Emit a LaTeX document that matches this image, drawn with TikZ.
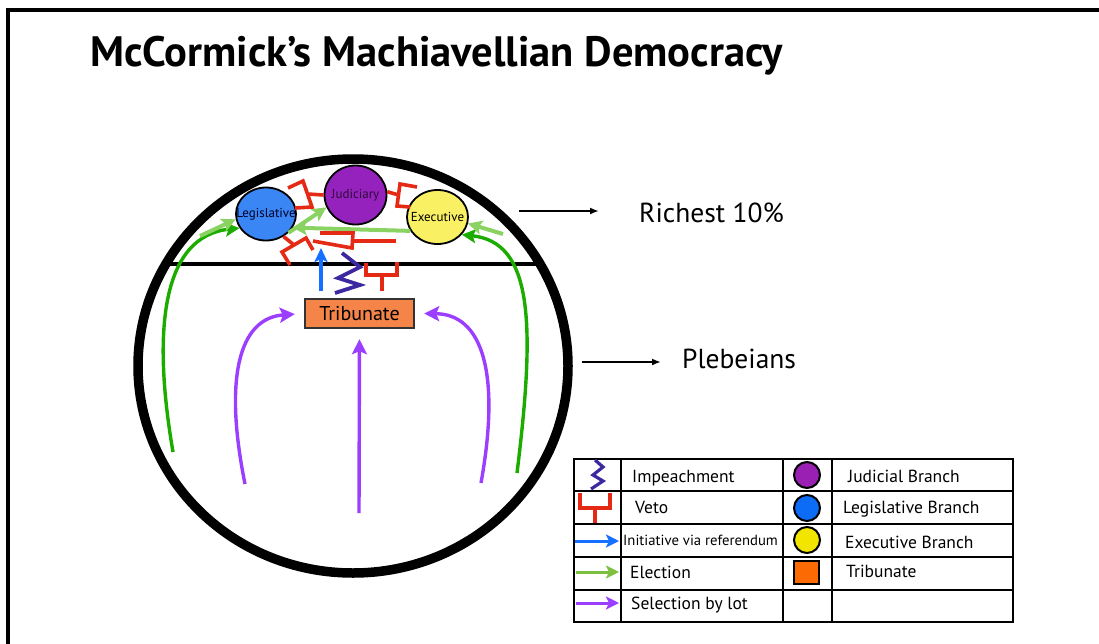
\documentclass[tikz,border=0pt]{standalone}
\usepackage{fontspec}
\setmainfont{PT Sans}
\usetikzlibrary{arrows.meta,shapes.geometric}

\definecolor{legblue}{RGB}{58,134,245}
\definecolor{judpurple}{RGB}{150,34,190}
\definecolor{exeyellow}{RGB}{250,240,100}
\definecolor{triorange}{RGB}{245,132,72}
\definecolor{vetored}{RGB}{228,42,20}
\definecolor{elgreen}{RGB}{28,172,0}
\definecolor{ltgreen}{RGB}{138,210,98}
\definecolor{initblue}{RGB}{22,112,255}
\definecolor{lotpurple}{RGB}{156,62,255}
\definecolor{impindigo}{RGB}{60,40,160}
\definecolor{keypurple}{RGB}{154,32,180}
\definecolor{keyblue}{RGB}{12,108,245}
\definecolor{keyyellow}{RGB}{242,229,0}
\definecolor{keyorange}{RGB}{252,106,4}
\definecolor{keygreen}{RGB}{125,192,64}

\tikzset{
  branch/.style={ellipse, draw=black, line width=1.8pt, inner sep=0pt,
    font=\fontsize{13}{13}\selectfont},
  vetoline/.style={vetored, line width=3.6pt},
  elect/.style={elgreen, line width=3.4pt, -{Stealth[length=14pt,width=14pt,inset=3pt]}},
  lightelect/.style={ltgreen, line width=4pt, -{Stealth[length=14pt,width=14pt,inset=3pt]}},
  lot/.style={lotpurple, line width=3.4pt, -{Stealth[length=15pt,width=15pt,inset=3pt]}},
  initiative/.style={initblue, line width=3.6pt, -{Stealth[length=14pt,width=13pt,inset=3pt]}},
  impeach/.style={impindigo, line width=3.8pt, line join=miter},
  pointer/.style={black, line width=1.8pt, -{Latex[length=9pt,width=7pt]}},
  sidelabel/.style={anchor=base west, inner sep=0pt, font=\fontsize{27.5}{27.5}\selectfont},
  keytext/.style={anchor=base west, inner sep=0pt, font=\fontsize{17.5}{17.5}\selectfont},
  keygrid/.style={black, line width=2.4pt},
  keydot/.style={circle, draw=black, line width=2pt, minimum size=26pt, inner sep=0pt},
  keyarrow/.style={line width=3pt, -{Stealth[length=13pt,width=13pt,inset=3pt]}}
}

\begin{document}
\begin{tikzpicture}[x=1pt,y=-1pt]
\useasboundingbox (0,0) rectangle (1099,643);

% outer frame
\draw[line width=3.4pt] (8,660) -- (8,10) -- (1110,10);

% title
\node[anchor=base west, inner sep=0pt, font=\bfseries\fontsize{42.5}{42.5}\selectfont] (title)
  at (90,66) {McCormick’s Machiavellian Democracy};

% society as a whole, split into the rich and the plebs
\draw[line width=9.5pt] (353,366) ellipse [x radius=215pt, y radius=207pt];
\draw[line width=4.8pt] (166,264) -- (540,264);

% the three branches
\node[branch, fill=legblue, minimum width=60pt, minimum height=53pt] (leg) at (266,214)
  {\makebox[0pt][c]{\color{black!85!blue}Legislative}};
\node[branch, fill=judpurple, minimum width=62pt, minimum height=59pt] (jud) at (355.5,195)
  {\makebox[0pt][c]{\color{black!70!judpurple}Judiciary}};
\node[branch, fill=exeyellow, minimum width=61pt, minimum height=54pt] (exe) at (437.5,217)
  {\makebox[0pt][c]{Executive}};

% tribunate
\node[draw=black!80, line width=2.4pt, fill=triorange, minimum width=109pt, minimum height=29pt,
  inner sep=0pt, font=\fontsize{20}{20}\selectfont] (tri) at (359.5,313.5) {Tribunate};

% side labels
\node[sidelabel] (rich) at (639,222) {Richest 10\%};
\node[sidelabel] (pleb) at (682,368) {Plebeians};
\coordinate (richtail) at (519,211);
\coordinate (plebtail) at (582,362);
\draw[pointer] (richtail) -- ++(80,0);
\draw[pointer] (plebtail) -- ++(79,0);

% elections from below
\coordinate (gl0) at (173,452);
\coordinate (gr0) at (517,473);
\draw[elect] (gl0) .. controls (152,330) and (162,236) .. (leg.208);
\draw[elect] (gr0) .. controls (536,320) and (532,242) .. (exe.-36);

% elections among the rich
\coordinate (lgl) at (200,236);
\coordinate (lgr) at (503,234);
\draw[lightelect] (lgl) -- (leg.190);
\draw[lightelect] (lgr) -- (exe.-12);
\draw[lightelect] (leg.-40) -- (jud.203);
\draw[lightelect] (exe.207) -- (leg.-27);

% selection by lot of the tribunate
\coordinate (pl0) at (245,484);
\coordinate (pm0) at (359,513);
\coordinate (pr0) at (481,483);
\draw[lot, shorten >=9pt] (pl0) .. controls (224,380) and (238,318) .. (tri.west);
\draw[lot, shorten >=10pt] (pm0) -- (tri.south);
\draw[lot, shorten >=9pt] (pr0) .. controls (501,372) and (482,314) .. (tri.east);

% initiative via referendum
\coordinate (ib0) at (321,291);
\coordinate (ib1) at (321,248);
\draw[initiative] (ib0) -- (ib1);

% impeachment
\draw[impeach] (342,253) -- (360,267) -- (338,278) -- (360,285) -- (335,293);

% vetoes
% judiciary over legislative
\draw[vetoline] (288,188) -- (303,181) -- (312,207) -- (295,208);
\draw[vetoline] (307.5,194) -- (jud.west);
% judiciary over executive
\draw[vetoline] (jud.6) -- (398.5,195);
\draw[vetoline] (417,187) -- (400,184) -- (397,206) -- (410,207);
% legislative over the plebs
\draw[vetoline] (leg.-52) -- (294,245);
\draw[vetoline] (313,250) -- (306,238) -- (282,252) -- (290,265);
% executive over legislative
\draw[vetoline] (396,241) -- (352.5,241);
\draw[vetoline] (320,233) -- (353,233) -- (352,248) -- (313,241);
% tribunate over the rich
\draw[vetoline] (382,291) -- (382,275);
\draw[vetoline] (366,263) -- (366,275) -- (397,275) -- (397,262);

% legend
\draw[keygrid] (574,459) rectangle (1013,622);
\foreach \yy in {491,524,557,590} \draw[keygrid] (574,\yy) -- (1013,\yy);
\foreach \xx in {621,783,832} \draw[keygrid] (\xx,459) -- (\xx,622);

\draw[impeach, line width=3.2pt] (595,460) -- (603,467) -- (593,475) -- (603,481) -- (591,489);
\draw[vetoline, line width=3.2pt] (580,493) -- (580,508) -- (610,508) -- (610,493);
\draw[vetoline, line width=3.2pt] (595,508) -- (595,523);
\coordinate (ka0) at (575,541); \coordinate (ka1) at (619,541);
\coordinate (kb0) at (576,572); \coordinate (kb1) at (619,572);
\coordinate (kc0) at (576,603); \coordinate (kc1) at (619,603);
\draw[keyarrow, initblue] (ka0) -- (ka1);
\draw[keyarrow, keygreen] (kb0) -- (kb1);
\draw[keyarrow, lotpurple] (kc0) -- (kc1);

\node[keytext] (k1) at (632,482) {Impeachment};
\node[keytext] (k2) at (635,513) {Veto};
\node[keytext, font=\fontsize{14.7}{14.7}\selectfont] (k3) at (623,545) {Initiative via referendum};
\node[keytext] (k4) at (630,578) {Election};
\node[keytext] (k5) at (631,609) {Selection by lot};

\node[keydot, fill=keypurple] (d1) at (807,475) {};
\node[keydot, fill=keyblue] (d2) at (807,508) {};
\node[keydot, fill=keyyellow] (d3) at (807,540) {};
\node[draw=black, line width=2pt, fill=keyorange, minimum width=25pt, minimum height=23pt,
  inner sep=0pt] (d4) at (806,572.5) {};

\node[keytext] (k6) at (848,482) {Judicial Branch};
\node[keytext] (k7) at (843,513) {Legislative Branch};
\node[keytext] (k8) at (845,548) {Executive Branch};
\node[keytext] (k9) at (846,577) {Tribunate};
\end{tikzpicture}
\end{document}
